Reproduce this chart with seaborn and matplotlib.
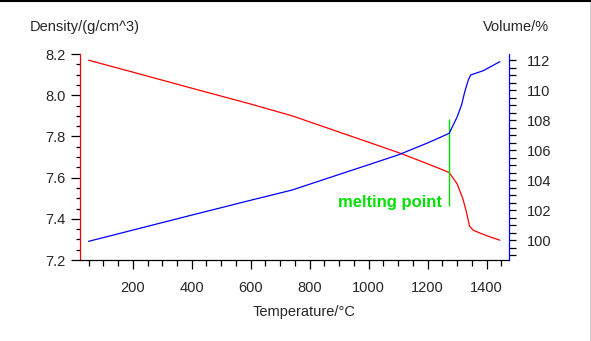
import matplotlib
matplotlib.use("Agg")
import matplotlib.pyplot as plt
from matplotlib.lines import Line2D
from matplotlib.ticker import MultipleLocator, FormatStrFormatter
import seaborn as sns

# ---------------- data ----------------
temp_density = [50, 200, 400, 600, 740, 900, 1100, 1200, 1273, 1285, 1300, 1320,
                1332, 1342, 1355, 1400, 1445]
density = [8.170, 8.112, 8.034, 7.957, 7.900, 7.821, 7.722, 7.667, 7.625, 7.600,
           7.570, 7.495, 7.430, 7.365, 7.344, 7.318, 7.296]

temp_volume = [50, 200, 400, 600, 740, 900, 1100, 1200, 1273, 1287, 1300, 1315,
               1326, 1338, 1346, 1389, 1445]
volume = [99.91, 100.66, 101.66, 102.65, 103.33, 104.37, 105.67, 106.47, 107.11,
          107.67, 108.20, 109.00, 109.89, 110.67, 111.00, 111.29, 111.89]

x_ticks = [200, 400, 600, 800, 1000, 1200, 1400]
density_ticks = [7.2, 7.4, 7.6, 7.8, 8.0, 8.2]
volume_ticks = [100, 102, 104, 106, 108, 110, 112]

melting_temp = 1273
melting_marker_range = (7.46, 7.886)
melting_label = "melting point"

# ---------------- style ----------------
sns.set_style("ticks")
plt.rcParams["font.family"] = ["Liberation Sans", "DejaVu Sans"]
FS = 10.5

fig = plt.figure(figsize=(5.91, 3.41), dpi=100)
W, H = 591, 341
ax = fig.add_axes([80.3 / W, 1 - 260 / H, (509.3 - 80.3) / W, (260 - 54) / H])
ax2 = ax.twinx()

sns.lineplot(x=temp_density, y=density, ax=ax, color="#ff0000", lw=0.9)
sns.lineplot(x=temp_volume, y=volume, ax=ax2, color="#0000ff", lw=0.9)

ax.vlines(melting_temp, *melting_marker_range, color="#00e000", lw=1.0)
ax.text(1250, 7.459, melting_label, color="#00e000", fontsize=12,
        fontweight="bold", ha="right", va="baseline")

ax.set_xlim(22, 1477)
ax.set_ylim(7.2, 8.2)
ax2.set_ylim(100 - 20 / 15, 100 + 186 / 15)

ax.set_xticks(x_ticks)
ax.xaxis.set_minor_locator(MultipleLocator(50))
ax.set_yticks(density_ticks)
ax.yaxis.set_major_formatter(FormatStrFormatter("%.1f"))
ax.yaxis.set_minor_locator(MultipleLocator(0.05))
ax2.set_yticks(volume_ticks)
ax2.yaxis.set_minor_locator(MultipleLocator(0.5))

ax.set_xlabel("")
ax.set_ylabel("")
ax2.set_ylabel("")

for s in ["top", "right"]:
    ax.spines[s].set_visible(False)
for s in ["top", "left", "bottom"]:
    ax2.spines[s].set_visible(False)
ax.spines["left"].set_color("#ff0000")
ax.spines["bottom"].set_color("black")
ax2.spines["right"].set_color("#0000ff")
for sp in [ax.spines["left"], ax.spines["bottom"], ax2.spines["right"]]:
    sp.set_linewidth(0.9)

ax.tick_params(axis="x", which="major", length=6.7, width=0.9, color="black",
               labelsize=FS, pad=8.5, direction="out")
ax.tick_params(axis="x", which="minor", length=4.3, width=0.9, color="black",
               direction="out")
ax.tick_params(axis="y", which="major", length=6.3, width=0.9, color="black",
               labelsize=FS, pad=4, direction="out")
ax.tick_params(axis="y", which="minor", length=3.1, width=0.9, color="black",
               direction="out")
ax2.tick_params(axis="y", which="both", length=5, width=0.9, color="black",
                labelsize=FS, pad=7.5, direction="out")

fig.text(30 / W, 1 - 27 / H, "Density/(g/cm^3)", fontsize=FS, ha="left", va="center")
fig.text(483 / W, 1 - 27 / H, "Volume/%", fontsize=FS, ha="left", va="center")
fig.text(304.5 / W, 1 - 312 / H, "Temperature/°C", fontsize=FS, ha="center", va="center")

# window frame edges (top and right)
fig.add_artist(Line2D([0, 1], [1 - 0.8 / H, 1 - 0.8 / H], transform=fig.transFigure,
                      color="black", lw=1.5))
fig.add_artist(Line2D([590.5 / W, 590.5 / W], [0, 1], transform=fig.transFigure,
                      color="black", lw=1.0))

fig.savefig("out.png", dpi=100)
